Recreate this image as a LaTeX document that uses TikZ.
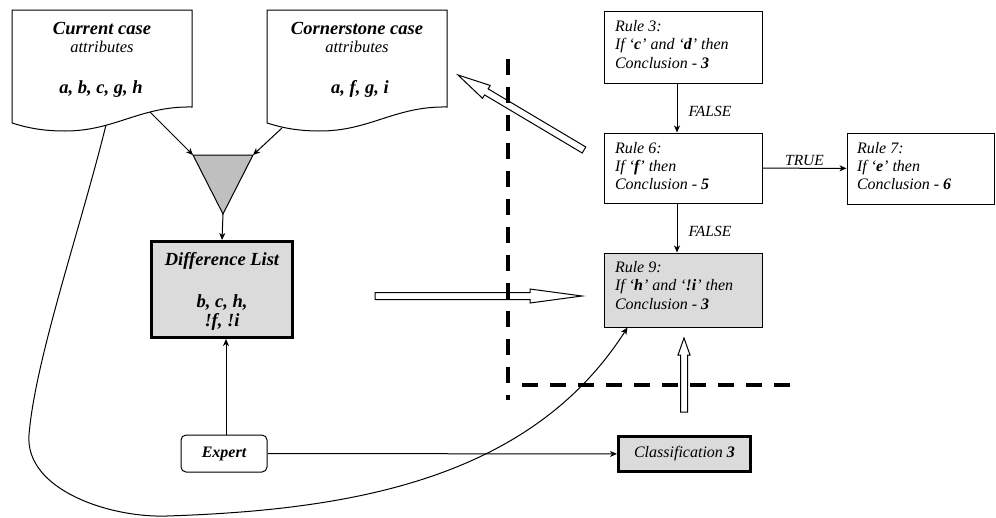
\documentclass[tikz,border=0pt]{standalone}
\usepackage{fontspec}
\setmainfont{Liberation Serif}
\usetikzlibrary{calc, arrows.meta}

\begin{document}
\begin{tikzpicture}[x=1pt, y=-1pt, line width=1pt,
  >={Stealth[length=7pt, width=6pt, inset=2pt]},
  doc/.style={draw, fill=white},
  ttl/.style={anchor=base, font=\fontsize{18.5}{22}\selectfont\bfseries\itshape},
  attr/.style={anchor=base, font=\fontsize{16.5}{20}\selectfont\itshape},
  rulebox/.style={draw, inner sep=0pt},
  ruletext/.style={anchor=north west, inner sep=0pt, align=left,
    font=\fontsize{16}{18.3}\selectfont\itshape},
  thickbox/.style={draw, line width=3pt, fill=black!14},
  lbl/.style={font=\fontsize{15.5}{18}\selectfont\itshape, inner sep=2pt},
  cut/.style={line width=4pt, dash pattern=on 16pt off 12pt}]
  \useasboundingbox (0,0) rectangle (996,517);
  % hollow arrow: tail, tip, head length, head half width
  \def\fatarrow#1#2#3#4{%
    \coordinate (hb) at ($(#2)!#3!(#1)$);
    \draw[fill=white] ($(#1)!3.5pt!-90:(#2)$) -- ($(hb)!3.5pt!-90:(#2)$)
      -- ($(hb)!#4!-90:(#2)$) -- (#2) -- ($(hb)!#4!90:(#2)$)
      -- ($(hb)!3.5pt!90:(#2)$) -- ($(#1)!3.5pt!90:(#2)$) -- cycle;}

  % the two cases, sheets with a wavy lower edge
  \foreach \dx in {0,255}
    \draw[doc, xshift=\dx] (12,10) -- (192,10) -- (192,107)
      .. controls (140,106) and (115,131) .. (65,131)
      .. controls (40,131) and (25,127) .. (12,123) -- cycle;
  \node[ttl] (curt) at (102,34) {Current case};
  \node[attr] (cura) at (102,52) {attributes};
  \node[ttl] (curv) at (101,93) {a, b, c, g, h};
  \node[ttl] (cort) at (357,34) {Cornerstone case};
  \node[attr] (cora) at (357,52) {attributes};
  \node[ttl] (corv) at (360,93) {a, f, g, i};
  \coordinate (cw) at (150,112);
  \coordinate (kw) at (282,128);
  \coordinate (cs) at (106,125);

  % comparison
  \coordinate (tl) at (193,155);
  \coordinate (tr) at (253,155);
  \coordinate (ap) at (223,214);
  \draw[fill=black!25] (tl) -- (tr) -- (ap) -- cycle;
  \draw[->] (cw) -- (tl);
  \draw[->] (kw) -- (tr);

  \node[thickbox, minimum width=141, minimum height=96] (diff) at (222,289.5) {};
  \node[ttl] (dl1) at (222,265) {Difference List};
  \node[ttl] (dl2) at (222,307) {b, c, h,};
  \node[ttl] (dl3) at (222,326) {!f, !i};
  \draw[->] (ap) -- (diff.north);

  \node[draw, rounded corners=5pt, minimum width=86, minimum height=37,
    font=\fontsize{16}{18}\selectfont\bfseries\itshape] (exp) at (224,453.5) {Expert};
  \node[thickbox, minimum width=132, minimum height=35,
    font=\fontsize{16}{18}\selectfont\itshape] (cls) at (684.5,454) {Classification \textbf{3}};
  \draw[->] ([xshift=2]exp.north) -- ([xshift=4]diff.south);
  \draw[->] (exp) -- (cls);

  % rule tree
  \node[rulebox, minimum width=158, minimum height=72] (r3) at (683,47) {};
  \node[rulebox, minimum width=158, minimum height=70] (r6) at (683,168) {};
  \node[rulebox, minimum width=147, minimum height=71] (r7) at (920.5,168.5) {};
  \node[rulebox, fill=black!14, minimum width=158, minimum height=74] (r9) at (683,290) {};
  \node[ruletext] (r3t) at ($(r3.north west)+(11,9.5)$)
    {Rule 3:\\If ‘\textbf{c}’ and ‘\textbf{d}’ then\\Conclusion - \textbf{3}};
  \node[ruletext] (r6t) at ($(r6.north west)+(11,9)$)
    {Rule 6:\\If ‘\textbf{f}’ then\\Conclusion - \textbf{5}};
  \node[ruletext] (r7t) at ($(r7.north west)+(10,9)$)
    {Rule 7:\\If ‘\textbf{e}’ then\\Conclusion - \textbf{6}};
  \node[ruletext] (r9t) at ($(r9.north west)+(11,8.5)$)
    {Rule 9:\\If ‘\textbf{h}’ and ‘\textbf{!i}’ then\\Conclusion - \textbf{3}};
  \draw[->] ([xshift=-6]r3.south) -- node[lbl, anchor=west, xshift=9pt, yshift=-3pt] {FALSE} ([xshift=-6]r6.north);
  \draw[->] (r6) -- node[lbl, above] {TRUE} (r7);
  \draw[->] ([xshift=-6]r6.south) -- node[lbl, anchor=west, xshift=9pt, yshift=-3pt] {FALSE} ([xshift=-6]r9.north);

  % current case goes round to the new rule
  \draw[->] (cs) .. controls (80,230) and (35,360) .. (29,435)
    .. controls (25,490) and (110,518) .. (167,516)
    .. controls (350,510) and (530,480) .. ([xshift=24]r9.south west);

  % hollow arrows and cut lines
  \coordinate (ha1) at (375,296);
  \coordinate (ha2) at (582,296);
  \coordinate (hd1) at (584,150);
  \coordinate (hd2) at (458,75);
  \coordinate (hv1) at (684,412);
  \coordinate (hv2) at (684,338);
  \fatarrow{ha1}{ha2}{52pt}{7pt}
  \fatarrow{hd1}{hd2}{33pt}{7.5pt}
  \coordinate (v1) at (508,59);
  \coordinate (v2) at (508,400);
  \draw[cut] (v1) -- (v2);
  \coordinate (h1) at (522,385);
  \coordinate (h2) at (795,385);
  \draw[cut] (h1) -- (h2);
  \fatarrow{hv1}{hv2}{17pt}{6pt}
\end{tikzpicture}
\end{document}
